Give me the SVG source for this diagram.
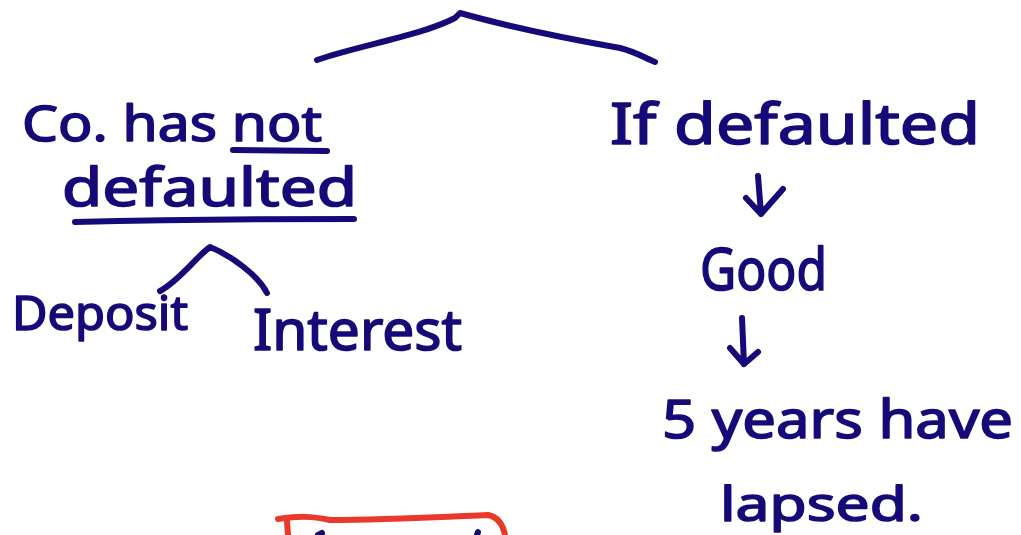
<svg xmlns="http://www.w3.org/2000/svg" width="1021" height="535" viewBox="0 0 1021 535">
<style>
.t{font-family:"Noto Sans","Liberation Sans",sans-serif;fill:#160a78;stroke:#160a78;stroke-width:1.6;stroke-linejoin:round}
.ln{fill:none;stroke:#160a78;stroke-width:6;stroke-linecap:round;stroke-linejoin:round}
.red{fill:none;stroke:#e8392a;stroke-width:6;stroke-linecap:round;stroke-linejoin:round}
</style>
<rect width="1021" height="535" fill="#ffffff"/>
<g id="connectors">
<path class="ln" d="M317,60 C360,45 420,36 455,18 L460,13 C520,30 575,40 620,48 C636,52 645,58 655,62"/>
<path class="ln" d="M160,291 C180,280 195,258 210,247 C230,255 258,275 267,293"/>
<path class="ln" d="M758,176 L761,214 M746,198 L761,214 L783,189"/>
<path class="ln" d="M742,318 L744,364 M730,348 L744,364 L758,352"/>
</g>
<g id="node-not-defaulted">
<text class="t" x="22" y="141" font-size="50" textLength="300" lengthAdjust="spacingAndGlyphs">Co. has not</text>
<path class="ln" d="M233,150 L327,151"/>
<text class="t" x="62" y="206" font-size="52" textLength="295" lengthAdjust="spacingAndGlyphs">defaulted</text>
<path class="ln" d="M75,222 C160,220 260,219 354,219"/>
</g>
<g id="node-deposit">
<text class="t" x="12" y="330" font-size="48" textLength="176" lengthAdjust="spacingAndGlyphs">Deposit</text>
</g>
<g id="node-interest">
<text class="t" x="253" y="350" font-size="56" textLength="209" lengthAdjust="spacingAndGlyphs">Interest</text>
</g>
<g id="node-if-defaulted">
<text class="t" x="610" y="144" font-size="56" textLength="370" lengthAdjust="spacingAndGlyphs">If defaulted</text>
</g>
<g id="node-good">
<text class="t" x="700" y="290" font-size="58" textLength="127" lengthAdjust="spacingAndGlyphs">Good</text>
</g>
<g id="node-lapsed">
<text class="t" x="662" y="438" font-size="52" textLength="351" lengthAdjust="spacingAndGlyphs">5 years have</text>
<text class="t" x="720" y="521" font-size="48" textLength="203" lengthAdjust="spacingAndGlyphs">lapsed.</text>
</g>
<g id="node-red-box">
<path class="red" d="M278,519 C300,516 310,516 330,520 C380,520 440,517 488,515 C498,517 503,525 505,535"/>
<path class="red" d="M287,521 L288,535"/>
<path class="ln" d="M318,535 L322,533 M477,535 L478,532"/>
</g>
</svg>
